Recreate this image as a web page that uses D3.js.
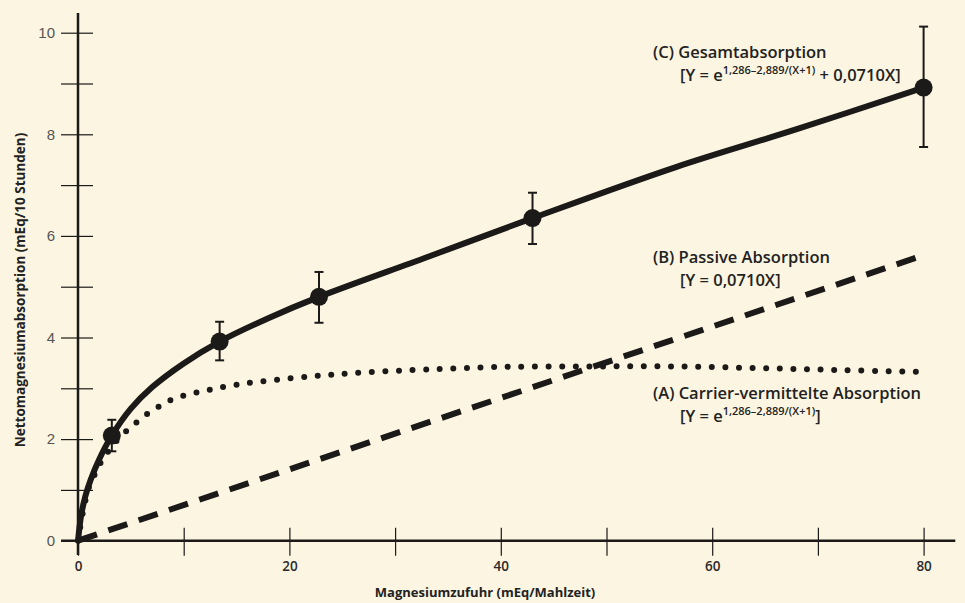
<!DOCTYPE html>
<head>
<meta charset="utf-8">
<script src="https://d3js.org/d3.v7.min.js"></script>
<style>
  body { margin: 0; background: #fcf5e1; }
  svg { display: block; }
  text { font-family: "Open Sans", "Noto Sans", sans-serif; }
</style>
</head>
<body>
  <svg id="chart" width="965" height="603"></svg>
  <script>
    const measX = [3.2, 13.4, 22.8, 43, 80];
    const measY = [2.07, 3.92, 4.8, 6.35, 8.92];
    const errLow = [1.76, 3.55, 4.29, 5.84, 7.75];
    const errHigh = [2.38, 4.31, 5.29, 6.85, 10.12];

    // (C) total absorption, solid
    const totalX = [0, 0.3, 0.7, 1.2, 2, 3.2, 5, 7, 10, 13.4, 18, 22.8, 33, 43, 56.5, 68, 80];
    const totalY = [0, 0.5, 0.88, 1.2, 1.6, 2.07, 2.6, 3.02, 3.49, 3.92, 4.38, 4.8, 5.58, 6.35, 7.35, 8.1, 8.92];

    // (B) passive absorption, dashed
    const passiveX = [0, 80];
    const passiveY = [0, 5.62];

    // (A) carrier-mediated absorption, dotted
    const carrierX = [0, 0.6, 1.2, 1.8, 2.3, 3.1, 4, 5, 6, 7, 8, 9, 10.3, 15, 21.8, 27, 33, 40, 48, 56, 64, 72, 80];
    const carrierY = [0, 0.7, 1.15, 1.38, 1.6, 1.82, 2.05, 2.23, 2.41, 2.56, 2.68, 2.79, 2.87, 3.07, 3.23, 3.31, 3.37, 3.42, 3.43, 3.43, 3.4, 3.36, 3.32];

    const xTicks = [0, 10, 20, 30, 40, 50, 60, 70, 80];
    const xLabels = [0, 20, 40, 60, 80];
    const yTicks = [0, 1, 2, 3, 4, 5, 6, 7, 8, 9, 10];
    const yLabels = [0, 2, 4, 6, 8, 10];

    const svg = d3.select("#chart");
    const ink = "#1b1a18";

    const x = d3.scaleLinear().domain([0, 80]).range([78, 923.6]);
    const y = d3.scaleLinear().domain([0, 10]).range([540.7, 32.7]);

    // Axes
    const xAxis = svg.append("g")
      .attr("transform", `translate(0,${y(0)})`)
      .call(d3.axisBottom(x).tickValues(xTicks).tickSize(0)
        .tickFormat(d => xLabels.includes(d) ? d : ""));
    xAxis.select(".domain").remove();
    xAxis.selectAll(".tick line")
      .attr("y1", -13).attr("y2", 15)
      .attr("stroke", ink).attr("stroke-width", 1.2);
    xAxis.selectAll(".tick text")
      .attr("y", 26).attr("dy", "0.35em")
      .attr("fill", "#2a2a2a")
      .style("font-size", "13.5px").style("font-weight", 600);

    const yAxis = svg.append("g")
      .attr("transform", `translate(${x(0)},0)`)
      .call(d3.axisLeft(y).tickValues(yTicks).tickSize(0)
        .tickFormat(d => yLabels.includes(d) ? d : ""));
    yAxis.select(".domain").remove();
    yAxis.selectAll(".tick line")
      .attr("x1", -17).attr("x2", 15)
      .attr("stroke", ink).attr("stroke-width", 1.2);
    yAxis.selectAll(".tick text")
      .attr("x", -23)
      .attr("fill", "#555")
      .style("font-family", "'Liberation Sans', Arial, sans-serif")
      .style("font-size", "15px");

    svg.append("line")
      .attr("x1", x(-1.6)).attr("x2", x(83))
      .attr("y1", y(0)).attr("y2", y(0))
      .attr("stroke", ink).attr("stroke-width", 2.5);
    svg.append("line")
      .attr("x1", x(0)).attr("x2", x(0))
      .attr("y1", y(10.39)).attr("y2", y(-0.28))
      .attr("stroke", ink).attr("stroke-width", 2.5);

    // Axis titles
    svg.append("text")
      .attr("x", 485).attr("y", 597)
      .attr("text-anchor", "middle")
      .attr("fill", "#222")
      .style("font-size", "13px").style("font-weight", 700)
      .text("Magnesiumzufuhr (mEq/Mahlzeit)");
    svg.append("text")
      .attr("transform", "translate(25,290) rotate(-90)")
      .attr("text-anchor", "middle")
      .attr("fill", "#222")
      .style("font-size", "13.5px").style("font-weight", 700)
      .text("Nettomagnesiumabsorption (mEq/10 Stunden)");

    // Curves
    const line = d3.line().x(d => x(d[0])).y(d => y(d[1])).curve(d3.curveCatmullRom.alpha(0.5));
    const zip = (a, b) => a.map((v, i) => [v, b[i]]);

    svg.append("path")
      .attr("d", line(zip(carrierX, carrierY)))
      .attr("fill", "none").attr("stroke", ink)
      .attr("stroke-width", 6).attr("stroke-linecap", "round")
      .attr("stroke-dasharray", "0 13.6");

    svg.append("path")
      .attr("d", line(zip(passiveX, passiveY)))
      .attr("fill", "none").attr("stroke", ink)
      .attr("stroke-width", 6)
      .attr("stroke-dasharray", "20 12");

    svg.append("path")
      .attr("d", line(zip(totalX, totalY)))
      .attr("fill", "none").attr("stroke", ink)
      .attr("stroke-width", 6).attr("stroke-linejoin", "round");

    // Error bars and points
    const pts = svg.append("g").selectAll("g")
      .data(measX.map((v, i) => ({x: v, y: measY[i], lo: errLow[i], hi: errHigh[i]})))
      .join("g");
    pts.append("line")
      .attr("x1", d => x(d.x)).attr("x2", d => x(d.x))
      .attr("y1", d => y(d.lo)).attr("y2", d => y(d.hi))
      .attr("stroke", ink).attr("stroke-width", 2);
    [d => y(d.lo), d => y(d.hi)].forEach(fy => {
      pts.append("line")
        .attr("x1", d => x(d.x) - 4.5).attr("x2", d => x(d.x) + 4.5)
        .attr("y1", fy).attr("y2", fy)
        .attr("stroke", ink).attr("stroke-width", 2);
    });
    pts.append("circle")
      .attr("cx", d => x(d.x)).attr("cy", d => y(d.y))
      .attr("r", 9).attr("fill", ink);

    // Labels
    function label(x0, yb, text) {
      svg.append("text").attr("x", x0).attr("y", yb)
        .attr("fill", "#222")
        .style("font-size", "16.5px").style("font-weight", 600)
        .text(text);
    }
    function formula(x0, yb, sup, tail) {
      const t = svg.append("text").attr("x", x0).attr("y", yb)
        .attr("fill", "#222")
        .style("font-size", "16.5px").style("font-weight", 600);
      if (sup) {
        t.append("tspan").text("[Y = e");
        t.append("tspan").attr("dy", -7).style("font-size", "11px").text(sup);
        t.append("tspan").attr("dy", 7).text(tail);
      } else {
        t.append("tspan").text(tail);
      }
    }
    label(653, 58, "(C) Gesamtabsorption");
    formula(680, 81, "1,286\u20132,889/(X+1)", " + 0,0710X]");
    label(653, 263, "(B) Passive Absorption");
    formula(680, 286, null, "[Y = 0,0710X]");
    label(653, 399, "(A) Carrier-vermittelte Absorption");
    formula(680, 422, "1,286\u20132,889/(X+1)", "]");
  </script>
</body>
